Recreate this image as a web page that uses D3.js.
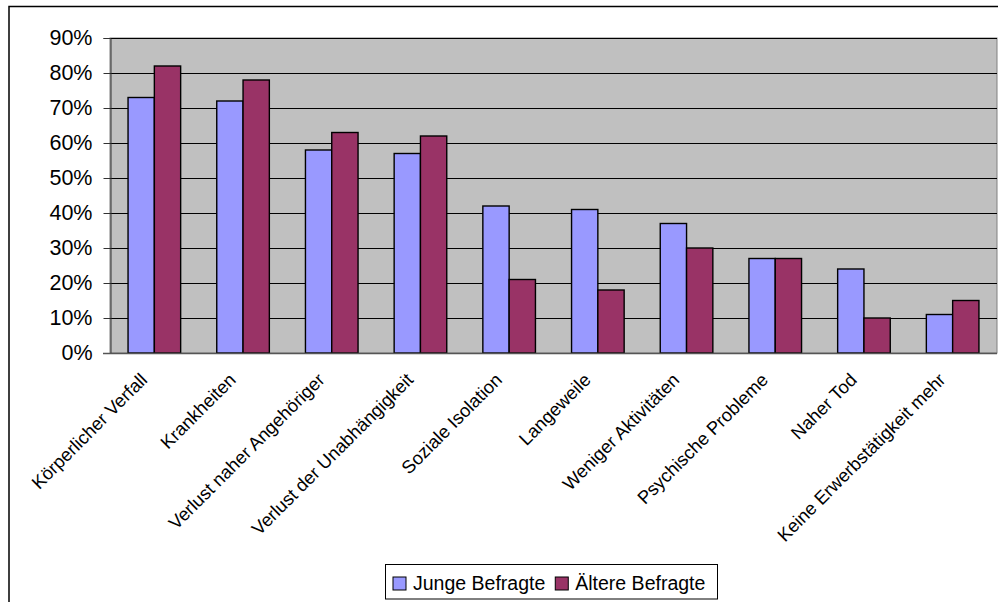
<!DOCTYPE html>
<html><head><meta charset="utf-8">
<script src="https://cdn.jsdelivr.net/npm/d3@7"></script>
<style>
html,body{margin:0;padding:0;background:#fff;}
svg{display:block;}
text{font-family:"Liberation Sans",Arial,Helvetica,sans-serif;fill:#000;}
</style></head><body>
<svg id="c" width="998" height="602"></svg>
<script>
const categories = ["Körperlicher Verfall","Krankheiten","Verlust naher Angehöriger","Verlust der Unabhängigkeit","Soziale Isolation","Langeweile","Weniger Aktivitäten","Psychische Probleme","Naher Tod","Keine Erwerbstätigkeit mehr"];
const seriesNames = ["Junge Befragte","Ältere Befragte"];
const junge = [73,72,58,57,42,41,37,27,24,11];
const aeltere = [82,78,63,62,21,18,30,27,10,15];
const yTicks = [0,10,20,30,40,50,60,70,80,90];
const colors = ["#9999FF","#993366"];

const svg = d3.select("#c");
const L = 110, R = 997, T = 38, B = 353;

// outer chart border
svg.append("rect").attr("x",9).attr("y",6.5).attr("width",1100).attr("height",700)
  .attr("fill","#fff").attr("stroke","#000").attr("stroke-width",1.5);

const x = d3.scaleBand().domain(categories).range([L,R]).paddingInner(0.407).paddingOuter(0.2035);
const xs = d3.scaleBand().domain(seriesNames).range([0,x.bandwidth()]);
const y = d3.scaleLinear().domain([0,90]).range([B,T]);

// plot area
svg.append("rect").attr("x",L).attr("y",T).attr("width",R-L).attr("height",B-T)
  .attr("fill","#C0C0C0").attr("stroke","#808080").attr("stroke-width",1);

// gridlines
svg.append("g").selectAll("line").data(yTicks.filter(d=>d>0)).join("line")
  .attr("x1",L).attr("x2",R).attr("y1",d=>Math.round(y(d))+0.5).attr("y2",d=>Math.round(y(d))+0.5)
  .attr("stroke","#000").attr("stroke-width",1);

// bars
const data = categories.map((c,i)=>({c, vals:[junge[i], aeltere[i]]}));
const g = svg.append("g");
data.forEach(d=>{
  d.vals.forEach((v,j)=>{
    g.append("rect")
      .attr("x", x(d.c)+xs(seriesNames[j]))
      .attr("y", y(v))
      .attr("width", xs.bandwidth())
      .attr("height", y(0)-y(v))
      .attr("fill", colors[j]).attr("stroke","#000").attr("stroke-width",1.4);
  });
});

// y axis
const yAxis = d3.axisLeft(y).tickValues(yTicks).tickFormat(d=>d+"%").tickSize(7).tickPadding(11);
const ya = svg.append("g").attr("transform",`translate(${L+0.5},0)`).call(yAxis);
ya.select(".domain").attr("stroke","#333");
ya.selectAll(".tick line").attr("stroke","#333");
ya.selectAll(".tick text").style("font-size","21.5px").attr("fill","#000");

// x axis line
svg.append("line").attr("x1",L-7).attr("x2",R).attr("y1",B+0.5).attr("y2",B+0.5).attr("stroke","#555").attr("stroke-width",1.3);

// category labels
svg.append("g").selectAll("text").data(categories).join("text")
  .attr("transform",d=>`translate(${x(d)+x.bandwidth()/2-6},381) rotate(-45)`)
  .attr("text-anchor","end")
  .style("font-size","18.3px")
  .text(d=>d);

// legend
const lg = svg.append("g");
lg.append("rect").attr("x",385.5).attr("y",564.5).attr("width",332).attr("height",34.5)
  .attr("fill","#fff").attr("stroke","#000").attr("stroke-width",1);
let cx = 393;
seriesNames.forEach((n,j)=>{
  lg.append("rect").attr("x",cx).attr("y",577).attr("width",13).attr("height",13)
    .attr("fill",colors[j]).attr("stroke","#000").attr("stroke-width",1);
  const t = lg.append("text").attr("x",cx+20).attr("y",590).style("font-size","19.5px").text(n);
  cx = cx + 20 + t.node().getComputedTextLength() + 10;
});
</script>
</body></html>
